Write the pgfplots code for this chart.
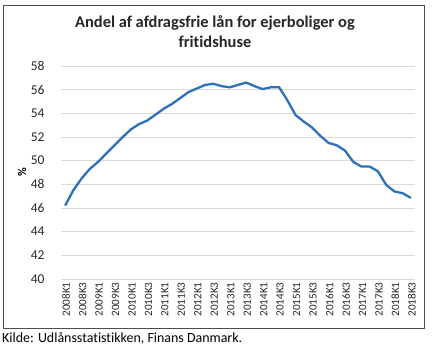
\documentclass[border=0pt]{standalone}
\usepackage{pgfplots}
\pgfplotsset{compat=1.18}
\usepackage{fontspec}
\setmainfont[Ligatures=NoCommon]{Carlito}
\definecolor{lineblue}{RGB}{46,112,186}
\definecolor{gridgray}{RGB}{217,217,217}
\begin{document}
\begin{tikzpicture}[x=1bp,y=1bp]
\path[use as bounding box] (0,0) rectangle (432,-347);
\draw[black!70, line width=0.8bp] (3,-5) rectangle (424,-328);
\node[font=\bfseries\fontsize{16.5}{20}\selectfont, align=center, text=black!85] at (215,-32) {Andel af afdragsfrie lån for ejerboliger og\\fritidshuse};
\node[anchor=west, font=\fontsize{14}{15}\selectfont, inner sep=0pt] at (2,-338) {Kilde: Udlånsstatistikken, Finans Danmark.};
\begin{axis}[
  at={(61bp,-279bp)}, anchor=south west,
  scale only axis, width=354bp, height=213bp,
  xmin=-0.5, xmax=42.5, ymin=40, ymax=58,
  ytick={40,42,...,58},
  xtick={0,2,...,42},
  xticklabels={2008K1,2008K3,2009K1,2009K3,2010K1,2010K3,2011K1,2011K3,2012K1,2012K3,2013K1,2013K3,2014K1,2014K3,2015K1,2015K3,2016K1,2016K3,2017K1,2017K3,2018K1,2018K3},
  major tick length=0pt,
  axis line style={draw=none},
  ymajorgrids, grid style={gridgray, line width=0.6bp},
  /pgf/number format/assume math mode=true,
  yticklabel style={font=\fontsize{13.5}{15}\selectfont, text=black!85, xshift=-13bp},
  xticklabel style={font=\fontsize{11.2}{13}\selectfont, rotate=90, anchor=east, text=black!85, yshift=-1bp},
  ylabel={\%}, ylabel style={font=\bfseries\fontsize{12}{14}\selectfont, at={(axis description cs:-0.11,0.5)}, anchor=center},
  clip=false,
]
\addplot[lineblue, line width=2.3bp, line join=round] coordinates {
(0,46.2) (1,47.5) (2,48.5) (3,49.3) (4,49.9) (5,50.6) (6,51.3) (7,52.0) (8,52.65) (9,53.1)
(10,53.4) (11,53.9) (12,54.4) (13,54.8) (14,55.3) (15,55.8) (16,56.1) (17,56.4) (18,56.5) (19,56.3)
(20,56.2) (21,56.4) (22,56.6) (23,56.3) (24,56.05) (25,56.2) (26,56.2) (27,55.1) (28,53.85) (29,53.3)
(30,52.8) (31,52.1) (32,51.5) (33,51.3) (34,50.85) (35,49.9) (36,49.5) (37,49.5) (38,49.1) (39,47.95)
(40,47.4) (41,47.25) (42,46.85)
};
\end{axis}
\end{tikzpicture}
\end{document}
